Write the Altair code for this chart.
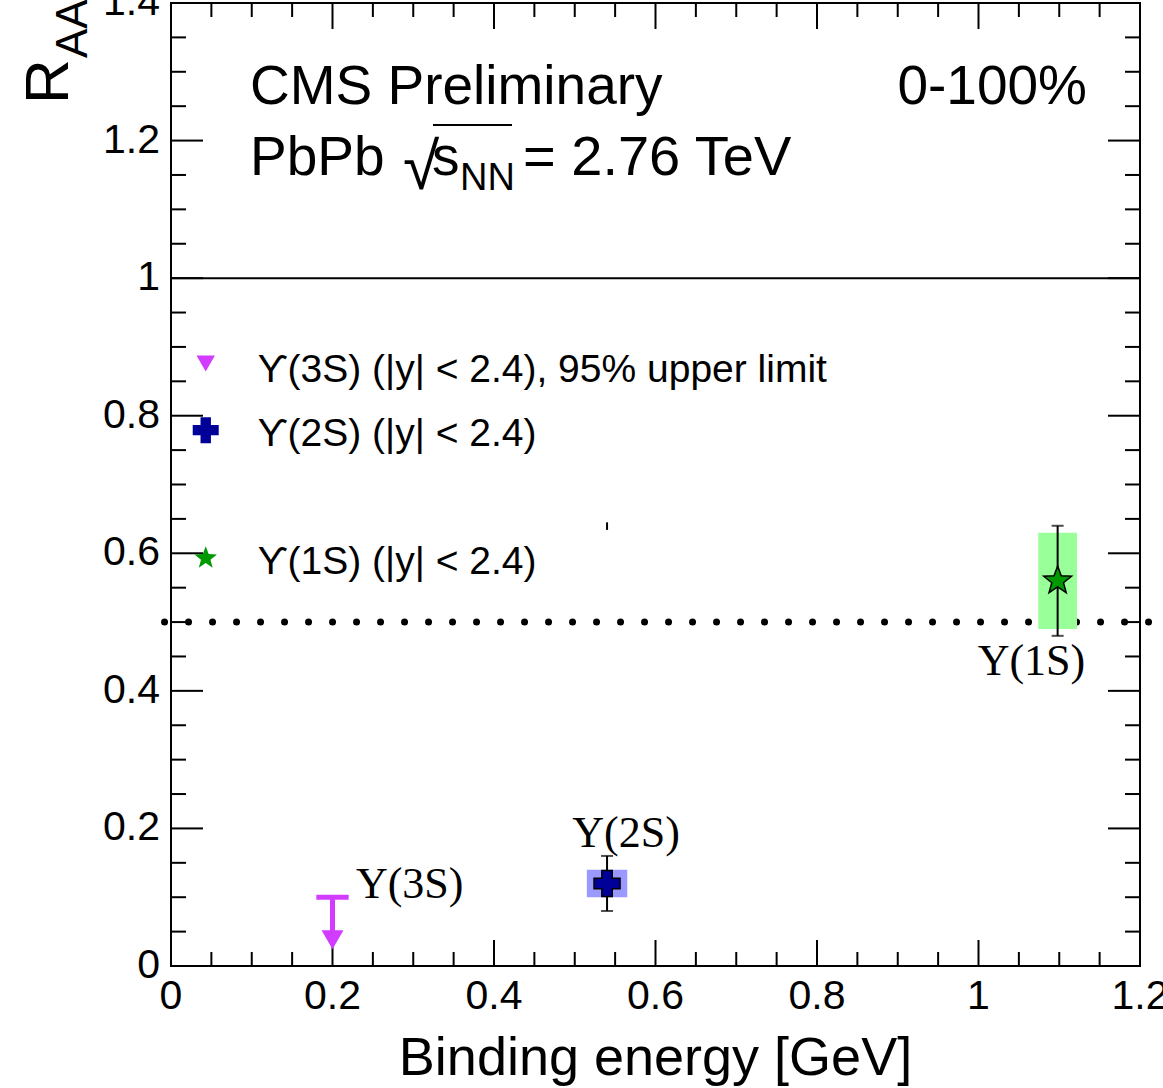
import math
import altair as alt
import pandas as pd

# ---------------- data ----------------
meas_state = ["Υ(1S)", "Υ(2S)"]
meas_x = [1.098, 0.540]
meas_raa = [0.56, 0.12]
meas_stat_lo = [0.48, 0.08]
meas_stat_hi = [0.64, 0.16]
meas_syst_lo = [0.49, 0.10]
meas_syst_hi = [0.63, 0.14]
meas_box_lo = [1.074, 0.515]
meas_box_hi = [1.122, 0.565]

ul_x = [0.20]
ul_limit = [0.10]
ul_arrow_to = [0.045]
ul_tip = [0.038]
ul_bar_lo = [0.180]
ul_bar_hi = [0.220]

lab_text = ["Υ(3S)", "Υ(2S)", "Υ(1S)"]
lab_x = [0.229, 0.497, 0.999]
lab_y = [0.099, 0.173, 0.423]

leg_text = ["ϒ(3S) (|y| < 2.4), 95% upper limit", "ϒ(2S) (|y| < 2.4)", "ϒ(1S) (|y| < 2.4)"]
leg_marker_x = [0.043, 0.043, 0.043]
leg_marker_y = [0.876, 0.779, 0.593]
leg_text_x = [0.107, 0.107, 0.107]
leg_text_y = [0.867, 0.773, 0.587]

x_major = [0.0, 0.2, 0.4, 0.6, 0.8, 1.0, 1.2]
x_labels = ["0", "0.2", "0.4", "0.6", "0.8", "1", "1.2"]
x_minor = [0.05, 0.1, 0.15, 0.25, 0.3, 0.35, 0.45, 0.5, 0.55, 0.65, 0.7, 0.75,
           0.85, 0.9, 0.95, 1.05, 1.1, 1.15]
y_major = [0.0, 0.2, 0.4, 0.6, 0.8, 1.0, 1.2, 1.4]
y_labels = ["0", "0.2", "0.4", "0.6", "0.8", "1", "1.2", "1.4"]
y_minor = [0.05, 0.1, 0.15, 0.25, 0.3, 0.35, 0.45, 0.5, 0.55, 0.65, 0.7, 0.75,
           0.85, 0.9, 0.95, 1.05, 1.1, 1.15, 1.25, 1.3, 1.35]

x_title = "Binding energy [GeV]"

unity_y = [1.0]
half_y = [0.5]
half_from = [-0.008]
half_to = [1.24]

stray_x = [0.54]
stray_lo = [0.634]
stray_hi = [0.645]

# ---------------- style ----------------
W, H = 969, 963
SANS = "Liberation Sans, Arial, Helvetica, sans-serif"
SERIF = "Liberation Serif, Times New Roman, serif"
C3 = "#d23cff"
C2 = "#000099"
C1 = "#009900"
BOX2 = "#9999ff"
BOX1 = "#99ff99"

xscale = alt.Scale(domain=[0, 1.2], nice=False, zero=False)
yscale = alt.Scale(domain=[0, 1.4], nice=False, zero=False)


def X(f):
    return alt.X(f, type="quantitative", scale=xscale, axis=None)


def Y(f):
    return alt.Y(f, type="quantitative", scale=yscale, axis=None)


def star_path(n=5, inner=0.42):
    pts = []
    for i in range(2 * n):
        r = 1.0 if i % 2 == 0 else inner
        a = -math.pi / 2 + i * math.pi / n
        pts.append(f"{r*math.cos(a):.4f},{r*math.sin(a):.4f}")
    return "M" + " L".join(pts) + " Z"


STAR = star_path()

meas = pd.DataFrame({
    "state": meas_state, "x": meas_x, "raa": meas_raa,
    "slo": meas_stat_lo, "shi": meas_stat_hi,
    "ylo": meas_syst_lo, "yhi": meas_syst_hi,
    "xlo": meas_box_lo, "xhi": meas_box_hi,
})
box_colors = alt.Color("state:N", scale=alt.Scale(domain=meas_state, range=[BOX1, BOX2]), legend=None)

layers = []

# ticks (inward, on all four sides)
xmaj = pd.DataFrame({"v": x_major, "lab": x_labels})
xmin = pd.DataFrame({"v": x_minor})
ymaj = pd.DataFrame({"v": y_major, "lab": y_labels})
ymin = pd.DataFrame({"v": y_minor})

rule = dict(color="black", strokeWidth=2)
layers.append(alt.Chart(xmaj).mark_rule(**rule).encode(x=X("v"), y=alt.value(H), y2=alt.value(H - 26)))
layers.append(alt.Chart(xmaj).mark_rule(**rule).encode(x=X("v"), y=alt.value(0), y2=alt.value(26)))
layers.append(alt.Chart(xmin).mark_rule(**rule).encode(x=X("v"), y=alt.value(H), y2=alt.value(H - 14)))
layers.append(alt.Chart(xmin).mark_rule(**rule).encode(x=X("v"), y=alt.value(0), y2=alt.value(14)))
layers.append(alt.Chart(ymaj).mark_rule(**rule).encode(y=Y("v"), x=alt.value(0), x2=alt.value(32)))
layers.append(alt.Chart(ymaj).mark_rule(**rule).encode(y=Y("v"), x=alt.value(W), x2=alt.value(W - 32)))
layers.append(alt.Chart(ymin).mark_rule(**rule).encode(y=Y("v"), x=alt.value(0), x2=alt.value(15)))
layers.append(alt.Chart(ymin).mark_rule(**rule).encode(y=Y("v"), x=alt.value(W), x2=alt.value(W - 15)))

# tick labels
layers.append(alt.Chart(xmaj).mark_text(font=SANS, fontSize=41, align="center", baseline="top", color="black")
              .encode(x=X("v"), y=alt.value(H + 11), text="lab:N"))
layers.append(alt.Chart(ymaj).mark_text(font=SANS, fontSize=41, align="right", baseline="middle", color="black")
              .encode(y=Y("v"), x=alt.value(-11), text="lab:N"))

# reference lines
layers.append(alt.Chart(pd.DataFrame({"y": unity_y})).mark_rule(color="black", strokeWidth=2).encode(y=Y("y")))
layers.append(alt.Chart(pd.DataFrame({"y": half_y, "a": half_from, "b": half_to}))
              .mark_rule(color="black", strokeWidth=7, strokeDash=[0, 24], strokeCap="round", clip=False)
              .encode(y=Y("y"), x=X("a"), x2=alt.X2("b")))

# systematic boxes
layers.append(alt.Chart(meas).mark_rect(opacity=1).encode(
    x=X("xlo"), x2=alt.X2("xhi"), y=Y("ylo"), y2=alt.Y2("yhi"), color=box_colors))

# stat error bars + caps
layers.append(alt.Chart(meas).mark_rule(color="black", strokeWidth=2).encode(x=X("x"), y=Y("slo"), y2=alt.Y2("shi")))
layers.append(alt.Chart(meas).mark_tick(color="black", orient="horizontal", size=12, thickness=2).encode(x=X("x"), y=Y("slo")))
layers.append(alt.Chart(meas).mark_tick(color="black", orient="horizontal", size=12, thickness=2).encode(x=X("x"), y=Y("shi")))

# markers
m1 = meas[meas.state == "Υ(1S)"]
m2 = meas[meas.state == "Υ(2S)"]
layers.append(alt.Chart(m1).mark_point(shape=STAR, filled=True, fill=C1, stroke="black", strokeWidth=1.5,
                                        size=860, opacity=1).encode(x=X("x"), y=Y("raa")))
layers.append(alt.Chart(m2).mark_point(shape="cross", filled=True, fill=C2, stroke="black", strokeWidth=1.5,
                                        size=676, opacity=1).encode(x=X("x"), y=Y("raa")))

# upper limit (3S)
ul = pd.DataFrame({"x": ul_x, "lim": ul_limit, "to": ul_arrow_to, "tip": ul_tip, "blo": ul_bar_lo, "bhi": ul_bar_hi})
layers.append(alt.Chart(ul).mark_rule(color=C3, strokeWidth=5).encode(x=X("x"), y=Y("lim"), y2=alt.Y2("to")))
layers.append(alt.Chart(ul).mark_rule(color=C3, strokeWidth=5).encode(x=X("blo"), x2=alt.X2("bhi"), y=Y("lim")))
layers.append(alt.Chart(ul).mark_point(shape="triangle-down", filled=True, color=C3, size=480, opacity=1)
              .encode(x=X("x"), y=Y("tip")))

# stray tick
layers.append(alt.Chart(pd.DataFrame({"x": stray_x, "a": stray_lo, "b": stray_hi}))
              .mark_rule(color="black", strokeWidth=2).encode(x=X("x"), y=Y("a"), y2=alt.Y2("b")))

# state labels
labs = pd.DataFrame({"t": lab_text, "x": lab_x, "y": lab_y})
layers.append(alt.Chart(labs).mark_text(font=SERIF, fontSize=44, align="left", baseline="alphabetic", color="black")
              .encode(x=X("x"), y=Y("y"), text="t:N"))

# legend
leg = pd.DataFrame({"t": leg_text, "mx": leg_marker_x, "my": leg_marker_y, "tx": leg_text_x, "ty": leg_text_y})
layers.append(alt.Chart(leg.iloc[[0]]).mark_point(shape="triangle-down", filled=True, color=C3, size=340, opacity=1)
              .encode(x=X("mx"), y=Y("my")))
layers.append(alt.Chart(leg.iloc[[1]]).mark_point(shape="cross", filled=True, color=C2, size=676, opacity=1)
              .encode(x=X("mx"), y=Y("my")))
layers.append(alt.Chart(leg.iloc[[2]]).mark_point(shape=STAR, filled=True, color=C1, size=560, opacity=1)
              .encode(x=X("mx"), y=Y("my")))
layers.append(alt.Chart(leg).mark_text(font=SANS, fontSize=39, align="left", baseline="middle", color="black")
              .encode(x=X("tx"), y=Y("ty"), text="t:N"))


def txt(s, x, y, size, font=SANS, align="left", angle=0):
    return (alt.Chart(pd.DataFrame({"t": [s]}))
            .mark_text(font=font, fontSize=size, align=align, baseline="alphabetic", angle=angle, color="black")
            .encode(x=alt.value(x), y=alt.value(y), text="t:N"))


# header texts
layers.append(txt("CMS Preliminary", 79, 101, 55))
layers.append(txt("0-100%", 916, 101, 55, align="right"))
layers.append(txt("PbPb", 79, 172, 55))
layers.append(txt("√", 232, 186, 66))
layers.append(alt.Chart(pd.DataFrame({"k": [0]})).mark_rule(color="black", strokeWidth=2)
              .encode(x=alt.value(262), x2=alt.value(341), y=alt.value(122)))
layers.append(txt("s", 261, 172, 55))
layers.append(txt("NN", 289, 187, 38))
layers.append(txt("= 2.76 TeV", 352, 172, 56))

# axis titles
layers.append(txt(x_title, W / 2, H + 109, 54, align="center"))
layers.append(txt("R", -103, 101, 62, angle=270))
layers.append(txt("AA", -84, 55, 44, angle=270))

chart = (alt.layer(*layers)
         .properties(width=W, height=H,
                     autosize=alt.AutoSizeParams(type="none"),
                     padding={"left": 171, "top": 3, "right": 23, "bottom": 122},
                     background="white")
         .configure_view(stroke="black", strokeWidth=2))

chart.save("out.html", embed_options={"renderer": "svg", "actions": False})
